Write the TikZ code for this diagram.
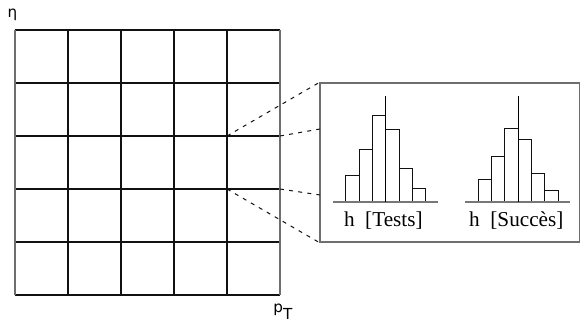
\documentclass[tikz,border=0pt]{standalone}
\usepackage{fontspec}
\setmainfont{Liberation Serif}
\newfontfamily\axisfont{DejaVu Sans}
\usetikzlibrary{positioning}
\definecolor{gdLine}{HTML}{111111}
\definecolor{gdEdge}{HTML}{6E6E6E}
\definecolor{gdBase}{HTML}{777777}
\tikzset{
  % grid lines of the eta/pT map
  cell/.style={line width=0.55pt,draw=gdLine},
  % frame holding the two histograms
  histbox/.style={rectangle,draw=gdEdge,line width=0.6pt,
    minimum width=129.75pt,minimum height=79.5pt,inner sep=0pt},
  % histogram bars and axis
  bar/.style={line width=0.5pt,draw=gdLine,fill=white},
  hbase/.style={line width=0.8pt,draw=gdBase},
  % dashed zoom lines
  zoomln/.style={line width=0.5pt,draw=gdLine,dash pattern=on 2pt off 2.6pt},
  % labels
  axlbl/.style={font=\axisfont\fontsize{7.6}{8}\selectfont,inner sep=0pt},
  hlbl/.style={font=\fontsize{10.6}{12}\selectfont,inner sep=0pt,anchor=base},
}
\begin{document}
\begin{tikzpicture}[x=0.5pt,y=-0.5pt]
  \useasboundingbox (0,0) rectangle (580,327);

  % eta - pT grid
  \foreach \i in {0,...,5} {
    \draw[cell] (15+53*\i,30) -- (15+53*\i,295);
    \draw[cell] (15,30+53*\i) -- (280,30+53*\i);
  }
  \draw[line width=0.6pt,draw=gdEdge] (15,30) -- (15,295);
  \draw[line width=0.6pt,draw=gdEdge] (280,30) -- (280,295);
  \coordinate (c1) at (227,136);
  \coordinate (c2) at (280,136);
  \coordinate (c3) at (280,189);
  \coordinate (c4) at (227,189);

  \node[axlbl] (eta) at (12.5,15) {η};
  \node[axlbl,anchor=north west] (pt) at (273,304) {p\raisebox{-0.75ex}{T}};

  % zoomed cell
  \node[histbox] (hb) at (449.75,162.5) {};
  \coordinate (hb1) at (320,129);
  \coordinate (hb2) at (320,195);

  \draw[zoomln] (c1) -- (hb.north west);
  \draw[zoomln] (c2) -- (hb1);
  \draw[zoomln] (c3) -- (hb2);
  \draw[zoomln] (c4) -- (hb.south west);

  % histogram of tests
  \foreach \top [count=\k from 0] in {175,149,115.7,129,168.3,188.3}
    \draw[bar] (345.7+13.33*\k,201.7) rectangle (359.03+13.33*\k,\top);
  \draw[hbase] (333.3,201.7) -- (438.3,201.7);
  \draw[line width=0.5pt] (385.7,201.7) -- (385.7,95.7);
  \node[hlbl] (tests) at (383.3,226.7) {h\ \ [Tests]};

  % histogram of successes
  \foreach \top [count=\k from 0] in {179,156.3,128.3,139.3,173.7,190.3}
    \draw[bar] (478.3+13.33*\k,201.7) rectangle (491.63+13.33*\k,\top);
  \draw[hbase] (465,201.7) -- (570,201.7);
  \draw[line width=0.5pt] (518,201.7) -- (518,95.7);
  \node[hlbl] (succ) at (516.3,226.7) {h\ \ [Succès]};
\end{tikzpicture}
\end{document}
